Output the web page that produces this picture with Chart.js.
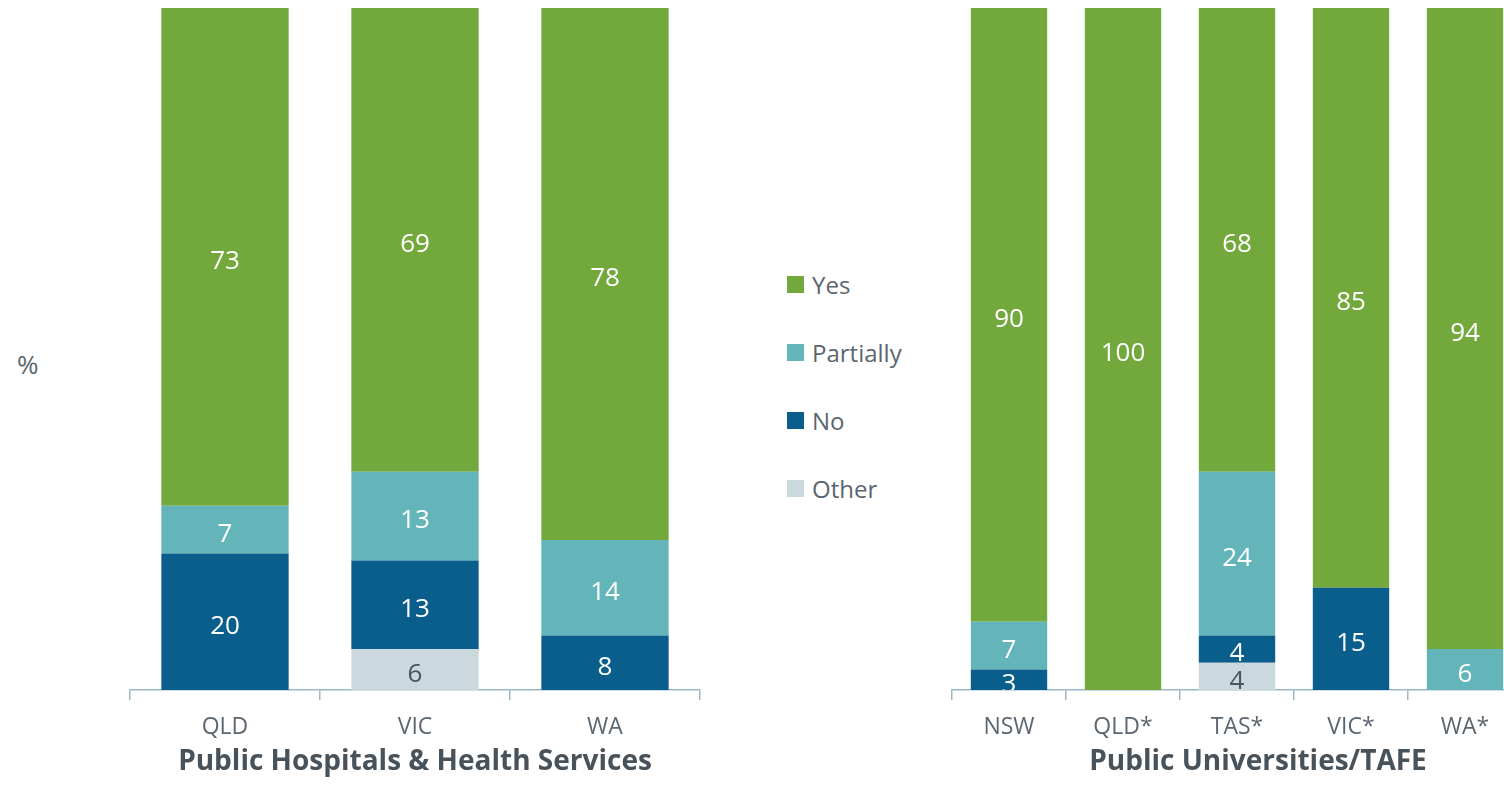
<!DOCTYPE html>
<html lang="en">
<head>
    <meta charset="UTF-8">
    <title>Stacked bars</title>
    <style>
        html, body { margin: 0; padding: 0; background: #fff; }
        body { width: 1504px; height: 805px; overflow: hidden; position: relative; font-family: "Open Sans", sans-serif; }
        #left-box { position: absolute; left: 0; top: 0; width: 720px; height: 805px; }
        #right-box { position: absolute; left: 930px; top: 0; width: 634px; height: 805px; }
        #pct { position: absolute; left: 17px; top: 346px; font-size: 26px; color: #5b6670; }
        #legend { position: absolute; left: 787px; top: 269px; margin: 0; padding: 0; list-style: none; }
        #legend li { display: flex; align-items: center; height: 30px; margin-bottom: 38px; font-size: 24px; color: #5b6670; }
        #legend span.box { display: inline-block; width: 17px; height: 17px; margin-right: 8px; }
    </style>
</head>
<body>
    <div id="pct">%</div>
    <div id="left-box"><canvas id="left-chart"></canvas></div>
    <ul id="legend"></ul>
    <div id="right-box"><canvas id="right-chart"></canvas></div>
    <script src="https://cdn.jsdelivr.net/npm/chart.js"></script>
    <script>
const seriesNames = ['Yes', 'Partially', 'No', 'Other'];
const seriesColors = ['#72a83c', '#63b5ba', '#0a5e8c', '#cbd8de'];
const labelColors = ['#ffffff', '#ffffff', '#ffffff', '#4a5560'];

// Public Hospitals & Health Services
const hospitalStates = ['QLD', 'VIC', 'WA'];
const hospitalYes = [73, 69, 78];
const hospitalPartially = [7, 13, 14];
const hospitalNo = [20, 13, 8];
const hospitalOther = [0, 6, 0];

// Public Universities/TAFE
const uniStates = ['NSW', 'QLD*', 'TAS*', 'VIC*', 'WA*'];
const uniYes = [90, 100, 68, 85, 94];
const uniPartially = [7, 0, 24, 0, 6];
const uniNo = [3, 0, 4, 15, 0];
const uniOther = [0, 0, 4, 0, 0];

const textGray = '#5b6670';
const axisColor = '#9bb8c9';

// stack from the bottom: Other, No, Partially, Yes
function makeDatasets(yes, partially, no, other) {
    const values = [yes, partially, no, other];
    return [3, 2, 1, 0].map(function(i) {
        return {
            label: seriesNames[i],
            data: values[i],
            backgroundColor: seriesColors[i],
            valueColor: labelColors[i],
            categoryPercentage: 1,
            barPercentage: 0.67
        };
    });
}

// writes the value in the middle of every segment
const valueLabels = {
    id: 'valueLabels',
    afterDatasetsDraw(chart) {
        const ctx = chart.ctx;
        const area = chart.chartArea;
        ctx.save();
        ctx.beginPath();
        ctx.rect(area.left, area.top, area.right - area.left, area.bottom - area.top);
        ctx.clip();
        ctx.font = '26px "Open Sans", sans-serif';
        ctx.textAlign = 'center';
        ctx.textBaseline = 'middle';
        chart.data.datasets.forEach(function(ds, di) {
            const meta = chart.getDatasetMeta(di);
            meta.data.forEach(function(bar, j) {
                const v = ds.data[j];
                if (!v) return;
                const top = Math.max(bar.y, area.top);
                const y = (top + bar.base) / 2 + 5;
                ctx.fillStyle = ds.valueColor;
                ctx.fillText(String(v), bar.x, y);
            });
        });
        ctx.restore();
    }
};

function makeOptions(title, padding, yAxis) {
    return {
        responsive: true,
        maintainAspectRatio: false,
        animation: false,
        layout: { padding: padding },
        plugins: {
            legend: { display: false },
            tooltip: { enabled: false },
            title: {
                display: true,
                text: title,
                position: 'bottom',
                color: '#48525b',
                font: { family: '"Open Sans", sans-serif', size: 28, weight: 'bold', lineHeight: 0.6 },
                padding: { top: 0, bottom: 34.2 }
            }
        },
        scales: {
            x: {
                stacked: true,
                border: { display: true, color: axisColor, width: 1.5 },
                grid: { display: true, drawOnChartArea: false, drawTicks: true, tickLength: 10, color: axisColor, lineWidth: 1.5, offset: true },
                ticks: { color: textGray, padding: 13.2, font: { family: '"Open Sans", sans-serif', size: 23, lineHeight: 1.2 } }
            },
            y: yAxis
        }
    };
}

const hiddenY = {
    stacked: true,
    min: 0,
    max: 100,
    display: false
};

const leftChart = new Chart(document.getElementById('left-chart'), {
    type: 'bar',
    data: {
        labels: hospitalStates,
        datasets: makeDatasets(hospitalYes, hospitalPartially, hospitalNo, hospitalOther)
    },
    options: makeOptions('Public Hospitals & Health Services', { left: 130, right: 20, top: 8, bottom: 0 }, hiddenY),
    plugins: [valueLabels]
});

// the right chart keeps an empty y axis on its right side, so its title sits a bit right of the bars
const spacerY = {
    stacked: true,
    min: 0,
    max: 100,
    position: 'right',
    display: true,
    grid: { display: false },
    border: { display: false },
    ticks: { display: false },
    afterFit: function(axis) { axis.width = 42; }
};

const rightChart = new Chart(document.getElementById('right-chart'), {
    type: 'bar',
    data: {
        labels: uniStates,
        datasets: makeDatasets(uniYes, uniPartially, uniNo, uniOther)
    },
    options: makeOptions('Public Universities/TAFE', { left: 22, right: 0, top: 8, bottom: 0 }, spacerY),
    plugins: [valueLabels]
});

// legend list, top to bottom as in the picture
const legendList = document.getElementById('legend');
leftChart.options.plugins.legend.labels.generateLabels(leftChart)
    .sort(function(a, b) { return seriesNames.indexOf(a.text) - seriesNames.indexOf(b.text); })
    .forEach(function(item) {
        const li = document.createElement('li');
        const box = document.createElement('span');
        box.className = 'box';
        box.style.background = item.fillStyle;
        li.appendChild(box);
        li.appendChild(document.createTextNode(item.text));
        legendList.appendChild(li);
    });
    </script>
</body>
</html>
